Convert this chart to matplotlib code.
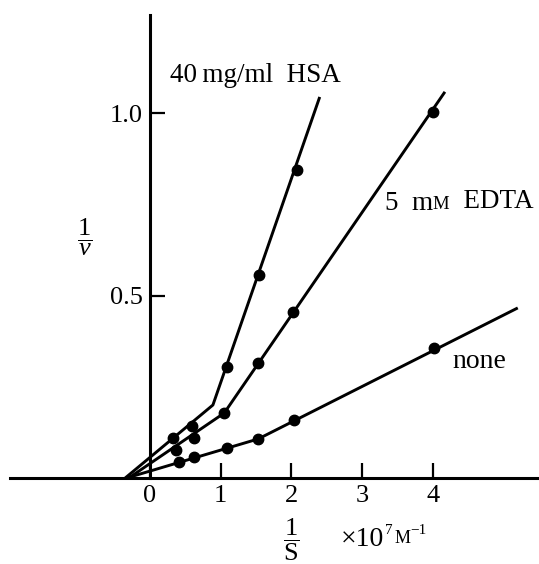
import numpy as np
import matplotlib.pyplot as plt

plt.rcParams['font.family'] = ['Liberation Serif', 'DejaVu Serif']
plt.rcParams['mathtext.fontset'] = 'custom'
plt.rcParams['mathtext.rm'] = 'Liberation Serif'
plt.rcParams['mathtext.it'] = 'Liberation Serif:italic'

# -------------------------
# Data (1/S in 1e7 M^-1, 1/v)
# -------------------------
hsa_x = [0.33, 0.59, 1.09, 1.54, 2.08]
hsa_y = [0.110, 0.142, 0.304, 0.556, 0.844]
hsa_line_x = [-0.35, 0.89, 2.40]
hsa_line_y = [0.0, 0.200, 1.044]

edta_x = [0.37, 0.62, 1.05, 1.53, 2.02, 4.0]
edta_y = [0.077, 0.110, 0.178, 0.315, 0.455, 1.003]
edta_line_x = [-0.30, 1.05, 4.17]
edta_line_y = [0.0, 0.178, 1.058]

none_x = [0.41, 0.62, 1.09, 1.53, 2.04, 4.01]
none_y = [0.044, 0.058, 0.082, 0.107, 0.159, 0.356]
none_line_x = [-0.33, 1.53, 5.20]
none_line_y = [0.0, 0.107, 0.466]

xticks = [0, 1, 2, 3, 4]
yticks = [0.5, 1.0]
ytick_labels = ['0.5', '1.0']

fig = plt.figure(figsize=(5.39, 5.64), dpi=100)
ax = fig.add_axes([0, 0, 1, 1])
ax.set_xlim(-2.12, 5.50)
ax.set_ylim(-0.2356, 1.3096)

lw = 2.1
for lx, ly in [(hsa_line_x, hsa_line_y), (edta_line_x, edta_line_y), (none_line_x, none_line_y)]:
    ax.plot(lx, ly, color='black', lw=lw, solid_capstyle='butt')
for px, py in [(hsa_x, hsa_y), (edta_x, edta_y), (none_x, none_y)]:
    ax.plot(px, py, 'o', color='black', ms=7.5, ls='none')

# axes through the origin
for s in ['top', 'right']:
    ax.spines[s].set_visible(False)
ax.spines['left'].set_position(('data', 0))
ax.spines['bottom'].set_position(('data', 0))
ax.spines['left'].set_bounds(0, 1.268)
ax.spines['bottom'].set_bounds(-1.98, 5.5)
ax.spines['left'].set_linewidth(2.2)
ax.spines['bottom'].set_linewidth(2.2)

ax.set_xticks(xticks)
ax.set_xticklabels([str(t) for t in xticks])
ax.set_yticks(yticks)
ax.set_yticklabels(ytick_labels)
ax.tick_params(axis='both', direction='in', length=11, width=1.6, labelsize=19, pad=5)

# axis labels
ax.text(-0.92, 0.66, r'$\dfrac{1}{v}$', fontsize=19, ha='center', va='center')
ax.text(2.00, -0.17, r'$\dfrac{1}{\mathrm{S}}$', fontsize=19, ha='center', va='center')
t1 = ax.text(2.70, -0.168, '\u00d710', fontsize=20, ha='left', va='center')
t2 = ax.annotate('7', xy=(1.02, 0.6), xycoords=t1, fontsize=11, ha='left', va='bottom')
t3 = ax.annotate('M', xy=(1.25, 0), xycoords=t2, xytext=(0, -7), textcoords='offset points',
                 fontsize=13, ha='left', va='bottom')
ax.annotate('\u22121', xy=(1, 0.55), xycoords=t3, fontsize=11, ha='left', va='bottom')

# curve labels
ax.text(0.28, 1.104, '40\u2009mg/ml  HSA', fontsize=19.5, ha='left', va='center')
e1 = ax.text(3.32, 0.753, '5  m', fontsize=19.5, ha='left', va='center')
e2 = ax.annotate('M', xy=(1, 0.12), xycoords=e1, fontsize=13.5, ha='left', va='bottom')
ax.annotate('  EDTA', xy=(1, 0), xycoords=e2, xytext=(0, -1.3), textcoords='offset points',
            fontsize=19.5, ha='left', va='bottom')
ax.text(4.28, 0.318, 'none', fontsize=20, ha='left', va='center')

fig.savefig('out.png', dpi=100)
